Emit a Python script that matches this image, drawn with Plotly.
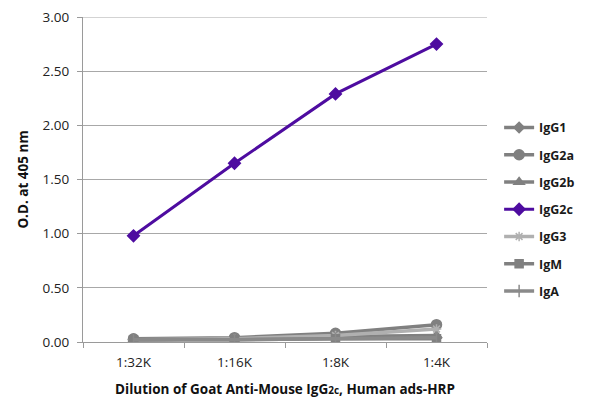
import plotly.graph_objects as go

dilutions = ["1:32K", "1:16K", "1:8K", "1:4K"]
igg1 = [0.02, 0.03, 0.04, 0.04]
igg2a = [0.03, 0.04, 0.08, 0.16]
igg2b = [0.02, 0.03, 0.05, 0.06]
igg2c = [0.98, 1.65, 2.29, 2.75]
igg3 = [0.02, 0.03, 0.06, 0.12]
igm = [0.02, 0.02, 0.03, 0.03]
iga = [0.02, 0.02, 0.03, 0.04]
y_max = 3.0

series = [
    ("IgG1", igg1, "#808080", "diamond", 8, 3.5),
    ("IgG2a", igg2a, "#808080", "circle", 10, 3.5),
    ("IgG2b", igg2b, "#808080", "triangle-up", 9, 3.5),
    ("IgG2c", igg2c, "#4e0ca0", "diamond", 9, 3),
    ("IgG3", igg3, "#b0b0b0", "asterisk-open", 8, 3.5),
    ("IgM", igm, "#808080", "square", 8, 3.5),
    ("IgA", iga, "#8a8a8a", "line-ns-open", 9, 3.5),
]

fig = go.Figure()
for i, (name, vals, col, sym, sz, lw) in enumerate(series):
    fig.add_trace(go.Scatter(
        x=dilutions, y=vals, name=name, mode="lines+markers",
        line=dict(color=col, width=lw),
        marker=dict(symbol=sym, size=sz, color=col, line=dict(color=col, width=1.5)),
        legendgroup=f"g{i}",
    ))

# top gridline (drawn at the top of the value range)
fig.add_shape(type="line", xref="paper", yref="y", x0=0, x1=1, y0=y_max, y1=y_max,
              line=dict(color="#a8a8a8", width=1), layer="below")

font = "Open Sans, Lato, sans-serif"
fig.update_layout(
    width=600, height=417,
    margin=dict(l=75, r=121, t=9, b=83, autoexpand=False),
    paper_bgcolor="white", plot_bgcolor="white",
    font=dict(family=font, size=13.5, color="#1a1a1a"),
    showlegend=True,
    legend=dict(
        x=1.03, y=0.705, xanchor="left", yanchor="top",
        font=dict(family=font, size=12.5, color="#1a1a1a", weight="bold"),
        tracegroupgap=8, itemwidth=30,
    ),
    xaxis=dict(
        type="category", range=[-0.5, 3.5], automargin=False,
        showline=True, linecolor="#9a9a9a", linewidth=1,
        ticks="outside", tickson="boundaries", ticklen=5, tickcolor="#9a9a9a",
        ticklabelstandoff=8,
        showgrid=False,
        tickfont=dict(size=13.5, color="#222"),
        title=dict(text="<b>Dilution of Goat Anti-Mouse IgG<span style='font-size:10px'>2c</span>, Human ads-HRP</b>",
                   font=dict(size=13.5, color="#111"), standoff=14),
    ),
    yaxis=dict(
        range=[0, y_max], tickvals=[0, 0.5, 1.0, 1.5, 2.0, 2.5, 3.0], automargin=False,
        ticktext=["0.00", "0.50", "1.00", "1.50", "2.00", "2.50", "3.00"],
        showline=True, linecolor="#9a9a9a", linewidth=1,
        ticks="outside", ticklen=5, tickcolor="#9a9a9a",
        ticklabelstandoff=5, ticklabeloverflow="allow",
        showgrid=True, gridcolor="#a8a8a8", gridwidth=1,
        zeroline=False,
        tickfont=dict(size=13.5, color="#222"),
        title=dict(text="<b>O.D. at 405 nm</b>", font=dict(size=13.5, color="#111"), standoff=10),
    ),
)

fig.write_html("out.html")
